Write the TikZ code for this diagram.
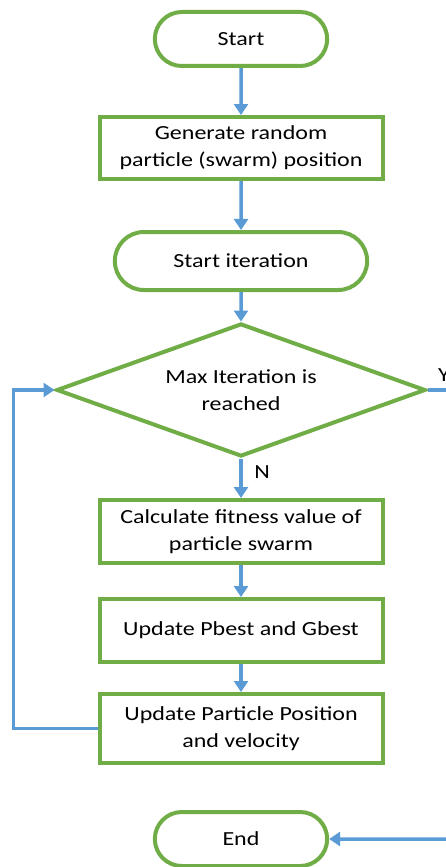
\documentclass[tikz,border=0pt]{standalone}
\usepackage{fontspec}
\setmainfont[FakeStretch=1.2]{Carlito}
\usetikzlibrary{shapes.geometric,shapes.misc,arrows.meta}
\definecolor{boxgreen}{RGB}{112,173,71}
\definecolor{flowblue}{RGB}{91,155,213}

\begin{document}
\begin{tikzpicture}[
    x=1pt, y=-1pt,
    font=\fontsize{20}{27}\selectfont,
    terminal/.style={rounded rectangle, draw=boxgreen, line width=4pt, minimum width=179pt, minimum height=54pt},
    process/.style={rectangle, draw=boxgreen, line width=4pt, minimum width=283pt, inner sep=0pt, align=center},
    decision/.style={diamond, draw=boxgreen, line width=4pt, minimum width=369pt, minimum height=133pt, aspect=2.77, inner sep=0pt, align=center},
    arrow/.style={-{Triangle[width=14pt,length=11pt]}, draw=flowblue, line width=3.5pt}
]
    \useasboundingbox (0,0) rectangle (446,867);

    % Flow steps
    \node[terminal] (start) at (241,39) {Start};
    \node[process, minimum height=62pt] (gen) at (241,148) {Generate random\\particle (swarm) position};
    \node[terminal, minimum width=259pt, minimum height=58pt] (iter) at (241,261) {Start iteration};
    \node[decision] (maxit) at (241,390) {Max Iteration is\\reached};
    \node[process, minimum height=63pt] (fit) at (241,531.5) {Calculate fitness value of\\particle swarm};
    \node[process, minimum height=63pt] (best) at (241,630.5) {Update Pbest and Gbest};
    \node[process, minimum height=69pt] (upd) at (241,728.5) {Update Particle Position\\and velocity};
    \node[terminal] (end) at (241,839) {End};

    % Branch labels
    \node (no) at (262,472) {N};
    \node[anchor=west, inner sep=0pt] (yes) at (438,375) {Y};
    \coordinate (yesout) at (446,390);
    \coordinate (endin) at (446,839);

    % Arrows
    \draw[arrow] (start) -- (gen);
    \draw[arrow] (gen) -- (iter);
    \draw[arrow] (iter) -- (maxit);
    \draw[arrow] (maxit) -- (fit);
    \draw[arrow] (fit) -- (best);
    \draw[arrow] (best) -- (upd);
    \draw[arrow] (upd.west) -- ++(-84,0) |- (maxit.west);
    \draw[flowblue, line width=3.5pt] (maxit.east) -- (yesout);
    \draw[arrow] (endin) -- (end);

\end{tikzpicture}
\end{document}
